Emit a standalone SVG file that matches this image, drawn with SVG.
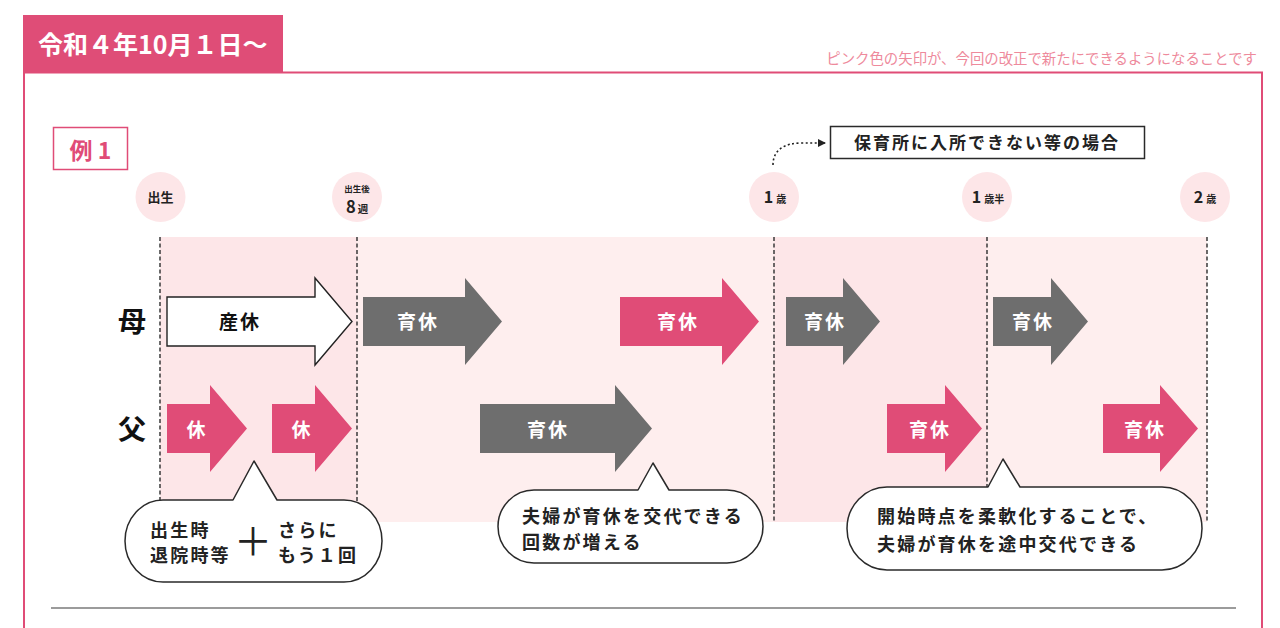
<svg xmlns="http://www.w3.org/2000/svg" width="1280" height="628" viewBox="0 0 1280 628">
<defs>
<style>
.jp{font-family:"Noto Sans CJK JP","Noto Sans",sans-serif;font-weight:700}
.jpn{font-family:"Noto Sans CJK JP","Noto Sans",sans-serif;font-weight:400}
.bgA{fill:#FDE6E8}
.bgB{fill:#FEEEEE}
.vline{stroke:#3a3a3a;stroke-width:1.5;stroke-dasharray:4 2.5;fill:none}
.pink{fill:#E04C77}
.grey{fill:#6E6E6E}
.white{fill:#fff;stroke:#222;stroke-width:1.4}
.atxt{fill:#fff;font-size:19px;letter-spacing:2px;text-anchor:middle}
.bubble{fill:#fff;stroke:#2a2a2a;stroke-width:1.5;stroke-linejoin:round}
.btxt{fill:#222;font-size:18px;letter-spacing:2.2px}
.circ{fill:#FDE6E8}
.ctxt{fill:#222;text-anchor:middle}
</style>
<marker id="ah" viewBox="0 0 8 8" refX="7" refY="4" markerWidth="8" markerHeight="8" markerUnits="userSpaceOnUse" orient="auto">
<path d="M0,0 L8,4 L0,8 Z" fill="#222"/>
</marker>
</defs>
<rect width="1280" height="628" fill="#fff"/>

<g id="frame">
<path d="M24,73 L24,628 M24,72.5 L1262,72.5 L1262,628" fill="none" stroke="#E04C77" stroke-width="2"/>
<rect x="23" y="15" width="260" height="58" fill="#DF4D77"/>
<text x="38" y="54" class="jp" font-size="25" fill="#fff">令和４年10月１日〜</text>
<text x="1257" y="64" class="jpn" font-size="14.4" fill="#EE8A9C" text-anchor="end">ピンク色の矢印が、今回の改正で新たにできるようになることです</text>
</g>

<g id="example-label">
<rect x="53.5" y="127.5" width="74" height="42" fill="#fff" stroke="#E04C77" stroke-width="1.5"/>
<text x="90.5" y="159" class="jp" font-size="23" fill="#E04C77" text-anchor="middle">例 1</text>
</g>

<g id="background">
<rect x="160" y="237" width="197" height="285" class="bgA"/>
<rect x="357" y="237" width="417" height="285" class="bgB"/>
<rect x="774" y="237" width="213" height="285" class="bgA"/>
<rect x="987" y="237" width="220" height="285" class="bgB"/>
</g>

<g id="timeline-lines">
<line x1="160" y1="237" x2="160" y2="522" class="vline"/>
<line x1="357" y1="237" x2="357" y2="522" class="vline"/>
<line x1="774" y1="237" x2="774" y2="522" class="vline"/>
<line x1="987" y1="237" x2="987" y2="522" class="vline"/>
<line x1="1207" y1="237" x2="1207" y2="522" class="vline"/>
</g>

<g id="milestone-birth">
<circle cx="160.5" cy="197" r="25" class="circ"/>
<text x="160.5" y="202" class="jp ctxt" font-size="13">出生</text>
</g>
<g id="milestone-8w">
<circle cx="357" cy="197" r="25" class="circ"/>
<text x="357" y="191.5" class="jp ctxt" font-size="8.5">出生後</text>
<text x="357" y="213" class="jp ctxt"><tspan font-size="16.5">8</tspan><tspan font-size="10.5" dx="2">週</tspan></text>
</g>
<g id="milestone-1y">
<circle cx="774" cy="197" r="25" class="circ"/>
<text x="775" y="202.5" class="jp ctxt"><tspan font-size="16">1</tspan><tspan font-size="10" dx="3">歳</tspan></text>
</g>
<g id="milestone-1y6m">
<circle cx="987" cy="197" r="25" class="circ"/>
<text x="988" y="202.5" class="jp ctxt"><tspan font-size="16">1</tspan><tspan font-size="10" dx="3">歳半</tspan></text>
</g>
<g id="milestone-2y">
<circle cx="1205" cy="197" r="25" class="circ"/>
<text x="1205" y="202.5" class="jp ctxt"><tspan font-size="16">2</tspan><tspan font-size="10" dx="3">歳</tspan></text>
</g>

<g id="note-box">
<rect x="830.5" y="126.5" width="314" height="32" fill="#fff" stroke="#2a2a2a" stroke-width="1.5"/>
<text x="987" y="149" class="jp" font-size="17" fill="#222" text-anchor="middle" letter-spacing="2">保育所に入所できない等の場合</text>
</g>

<g id="connectors">
<path d="M773,165 C773,150 784,143 802,143 L825,143" fill="none" stroke="#222" stroke-width="1.6" stroke-dasharray="2 2.5" marker-end="url(#ah)"/>
</g>

<g id="row-labels">
<text x="132" y="332" class="jp" font-size="28" fill="#111" text-anchor="middle">母</text>
<text x="132" y="440" class="jp" font-size="28" fill="#111" text-anchor="middle">父</text>
</g>

<g id="mother-sankyu">
<polygon points="167,297 315,297 315,278 352,321.5 315,365 315,346 167,346" class="white"/>
<text x="240" y="329" class="jp atxt" style="fill:#111">産休</text>
</g>
<g id="mother-ikukyu1">
<polygon points="363,297 465,297 465,278 502,321.5 465,365 465,346 363,346" class="grey"/>
<text x="418" y="329" class="jp atxt">育休</text>
</g>
<g id="mother-ikukyu2">
<polygon points="620,297 722,297 722,278 759,321.5 722,365 722,346 620,346" class="pink"/>
<text x="678" y="329" class="jp atxt">育休</text>
</g>
<g id="mother-ikukyu3">
<polygon points="786,297 843,297 843,278 880,321.5 843,365 843,346 786,346" class="grey"/>
<text x="825" y="329" class="jp atxt">育休</text>
</g>
<g id="mother-ikukyu4">
<polygon points="993,297 1051,297 1051,278 1088,321.5 1051,365 1051,346 993,346" class="grey"/>
<text x="1033" y="329" class="jp atxt">育休</text>
</g>

<g id="father-kyu1">
<polygon points="167,404 210,404 210,385 247,428.5 210,472 210,453 167,453" class="pink"/>
<text x="197" y="437" class="jp atxt">休</text>
</g>
<g id="father-kyu2">
<polygon points="272,404 315,404 315,385 352,428.5 315,472 315,453 272,453" class="pink"/>
<text x="302" y="437" class="jp atxt">休</text>
</g>
<g id="father-ikukyu1">
<polygon points="480,404 615,404 615,385 652,428.5 615,472 615,453 480,453" class="grey"/>
<text x="548" y="437" class="jp atxt">育休</text>
</g>
<g id="father-ikukyu2">
<polygon points="887,404 945,404 945,385 982,428.5 945,472 945,453 887,453" class="pink"/>
<text x="930" y="437" class="jp atxt">育休</text>
</g>
<g id="father-ikukyu3">
<polygon points="1103,404 1160,404 1160,385 1198,428.5 1160,472 1160,453 1103,453" class="pink"/>
<text x="1145" y="437" class="jp atxt">育休</text>
</g>

<g id="bubble-1">
<path d="M163,500 L233,500 L254,461 L277,500 L344,500 A38,41 0 0 1 382,541 A38,41 0 0 1 344,582 L163,582 A38,41 0 0 1 125,541 A38,41 0 0 1 163,500 Z" class="bubble"/>
<text x="150" y="537" class="jp btxt" letter-spacing="1.6">出生時</text>
<text x="150" y="562" class="jp btxt" letter-spacing="1.6">退院時等</text>
<text x="253" y="555" class="jpn" font-size="38" fill="#222" text-anchor="middle">＋</text>
<text x="278" y="537" class="jp btxt" letter-spacing="1.6">さらに</text>
<text x="278" y="562" class="jp btxt" letter-spacing="1.6">もう１回</text>
</g>

<g id="bubble-2">
<path d="M534,490 L638,490 L653,463 L669,490 L727,490 A36,36.5 0 0 1 763,526.5 A36,36.5 0 0 1 727,563 L534,563 A36,36.5 0 0 1 498,526.5 A36,36.5 0 0 1 534,490 Z" class="bubble"/>
<text x="522" y="523" class="jp btxt" letter-spacing="2.9">夫婦が育休を交代できる</text>
<text x="522" y="549" class="jp btxt" letter-spacing="2.9">回数が増える</text>
</g>

<g id="bubble-3">
<path d="M887,487 L988,487 L1003,459 L1020,487 L1162,487 A40,41.5 0 0 1 1202,528.5 A40,41.5 0 0 1 1162,570 L887,570 A40,41.5 0 0 1 847,528.5 A40,41.5 0 0 1 887,487 Z" class="bubble"/>
<text x="877" y="523" class="jp btxt">開始時点を柔軟化することで、</text>
<text x="877" y="551" class="jp btxt">夫婦が育休を途中交代できる</text>
</g>

<g id="divider">
<line x1="51" y1="608" x2="1236" y2="608" stroke="#7a7a7a" stroke-width="1.5"/>
</g>
</svg>
